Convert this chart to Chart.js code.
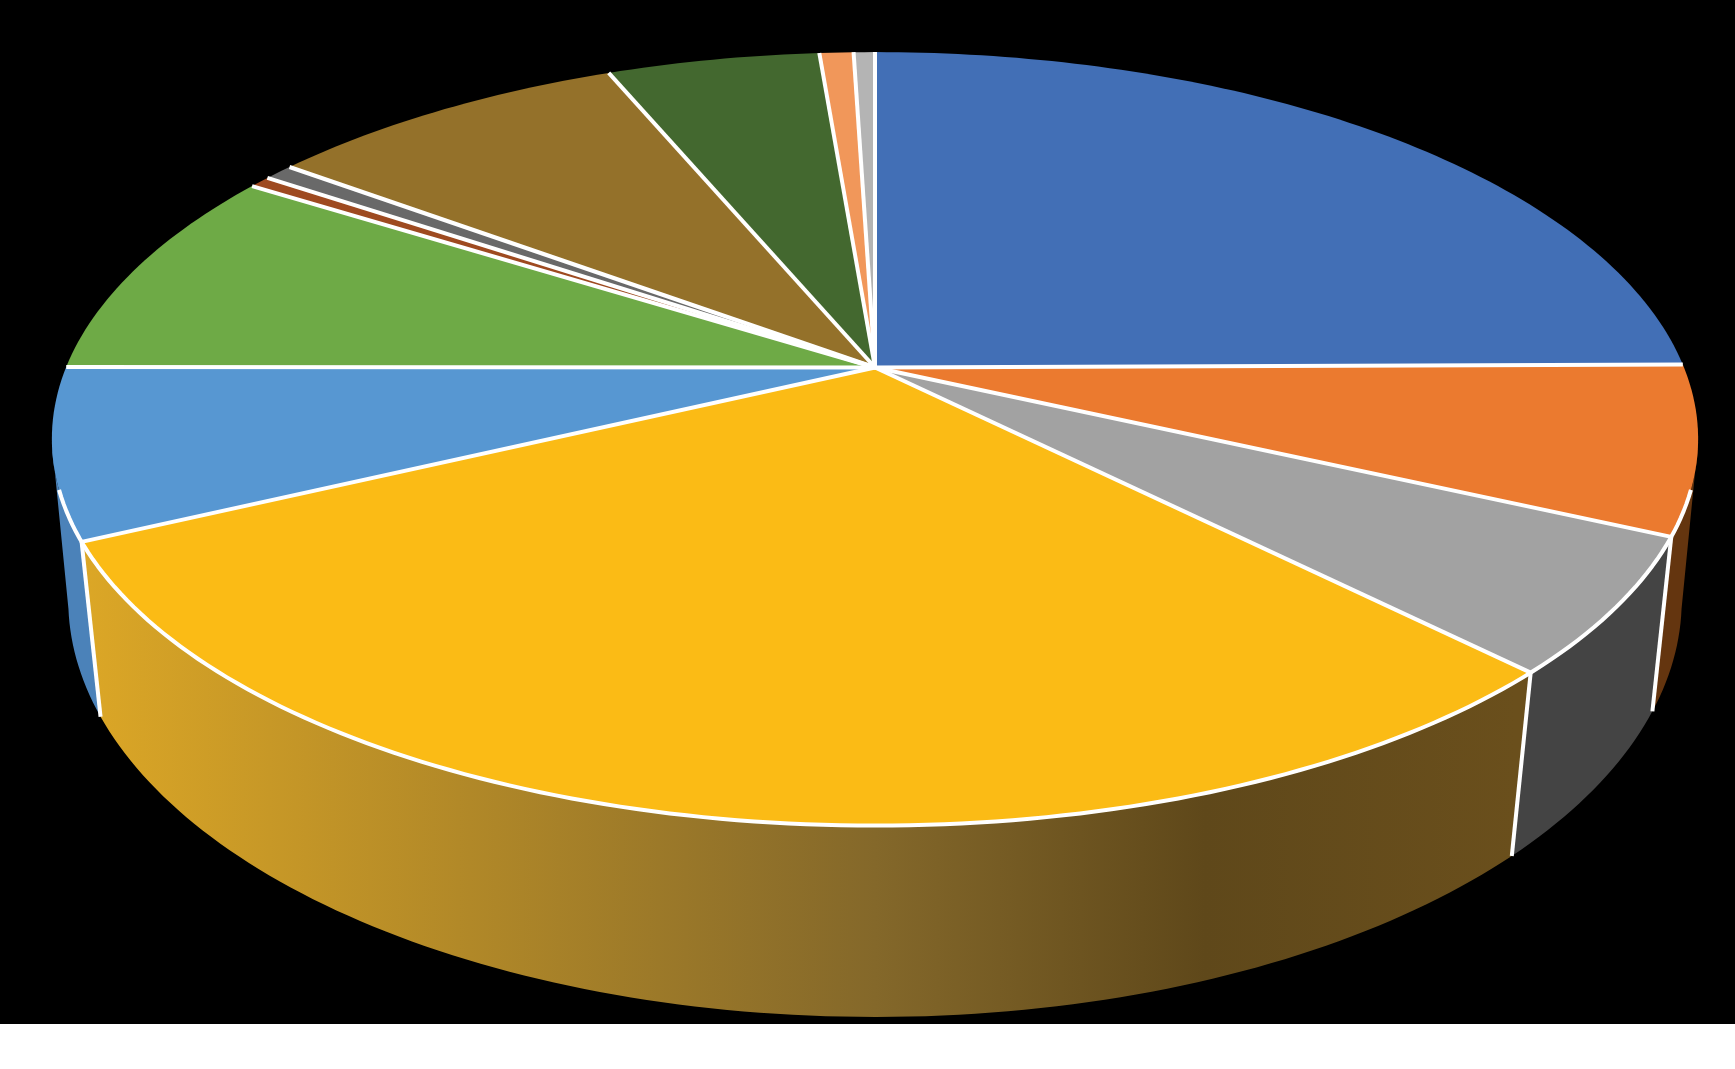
<!DOCTYPE html>
<html>
<head>
<meta charset="utf-8">
<title>Pie</title>
<script src="https://cdn.jsdelivr.net/npm/chart.js@4"></script>
<style>
  html, body { margin: 0; background: #fff; }
  #grafico { display: block; background: #000; }
</style>
</head>
<body>
<canvas id="grafico" width="1735" height="1024"></canvas>
<script>
// ======= Dados =======
const categorias = ['Cat 1','Cat 2','Cat 3','Cat 4','Cat 5','Cat 6','Cat 7','Cat 8','Cat 9','Cat 10','Cat 11','Cat 12'];
const valores = [24.9, 7.0, 5.7, 30.4, 7.1, 8.94, 0.5, 0.7, 8.56, 5.0, 0.8, 0.5];

// ======= Estilos =======
const coresTopo = ['#426fb6','#eb7a2f','#a2a2a2','#fbbb15','#5797d2','#6eaa46','#9e4a20','#696969','#94712a','#43682f','#f1975a','#b4b4b4'];
const coresLado = { 1: '#64350f', 2: '#444444', 4: '#4b82b9' };
const ordemLado = [4, 1, 2, 3]; // laterais visiveis, a amarela por cima

// perspectiva do disco de cima e do disco de baixo
const topo = { cx: 875, cy: 367.5, a: 809, b: 373.6, k: 0.1845 };
const base = { cx: 875, cy: 529, a: 795, b: 405, k: 0.17 };
const passo = Math.PI / 180;
// limites da parte visivel da lateral (angulos medidos do topo, em graus)
const ladoIni = 101, ladoFim = 259;

function projeta(d, ang) {
  const u = Math.cos(ang), v = -Math.sin(ang), w = 1 + d.k * v;
  return [d.cx + d.a * u / w, d.cy - d.b * v / w];
}

function tracaArco(ctx, d, ini, fim) {
  const n = Math.max(2, Math.ceil(Math.abs(fim - ini) / passo));
  for (let i = 0; i <= n; i++) {
    const p = projeta(d, ini + (fim - ini) * i / n);
    ctx.lineTo(p[0], p[1]);
  }
}

function corLado(ctx, i) {
  if (i !== 3) return coresLado[i];
  const g = ctx.createLinearGradient(80, 0, 1515, 0);
  g.addColorStop(0, '#dca726');
  g.addColorStop(0.554, '#84682a');
  g.addColorStop(0.784, '#5f481a');
  g.addColorStop(1, '#6a4f1c');
  return g;
}

// ======= Desenha a pizza 3D a partir dos angulos do Chart.js =======
const pizza3d = {
  id: 'pizza3d',
  beforeDatasetDraw(chart, args) {
    const ctx = chart.ctx;
    const arcos = chart.getDatasetMeta(args.index).data;
    const rad = g => g * passo - Math.PI / 2;
    ctx.save();
    ctx.lineJoin = 'round';

    // laterais
    ordemLado.forEach(i => {
      const arco = arcos[i];
      const ini = Math.max(arco.startAngle, rad(ladoIni));
      const fim = Math.min(arco.endAngle, rad(ladoFim));
      ctx.beginPath();
      tracaArco(ctx, topo, ini, fim);
      tracaArco(ctx, base, fim, ini);
      ctx.closePath();
      ctx.fillStyle = corLado(ctx, i);
      ctx.fill();
    });

    // fatias de cima
    arcos.forEach(arco => {
      ctx.beginPath();
      ctx.moveTo(topo.cx, topo.cy);
      tracaArco(ctx, topo, arco.startAngle, arco.endAngle);
      ctx.closePath();
      ctx.fillStyle = arco.options.backgroundColor;
      ctx.fill();
    });

    // linhas brancas
    const linha = arcos[0].options;
    ctx.strokeStyle = linha.borderColor;
    ctx.lineWidth = linha.borderWidth;
    arcos.forEach(arco => {
      const p = projeta(topo, arco.startAngle);
      ctx.beginPath();
      ctx.moveTo(topo.cx, topo.cy);
      ctx.lineTo(p[0], p[1]);
      ctx.stroke();
    });
    ctx.beginPath();
    tracaArco(ctx, topo, rad(ladoIni + 7), rad(ladoFim - 7));
    ctx.stroke();
    [1, 2, 3].forEach(i => {
      const ang = arcos[i].endAngle;
      const a = projeta(topo, ang), b = projeta(base, ang);
      ctx.beginPath();
      ctx.moveTo(a[0], a[1]);
      ctx.lineTo(b[0], b[1]);
      ctx.stroke();
    });
    ctx.restore();
    return false;
  }
};

new Chart(document.getElementById('grafico'), {
  type: 'pie',
  data: {
    labels: categorias,
    datasets: [{
      data: valores,
      backgroundColor: coresTopo,
      borderColor: '#ffffff',
      borderWidth: 4
    }]
  },
  options: {
    responsive: false,
    animation: false,
    plugins: { legend: { display: false }, tooltip: { enabled: false } }
  },
  plugins: [pizza3d]
});
</script>
</body>
</html>
